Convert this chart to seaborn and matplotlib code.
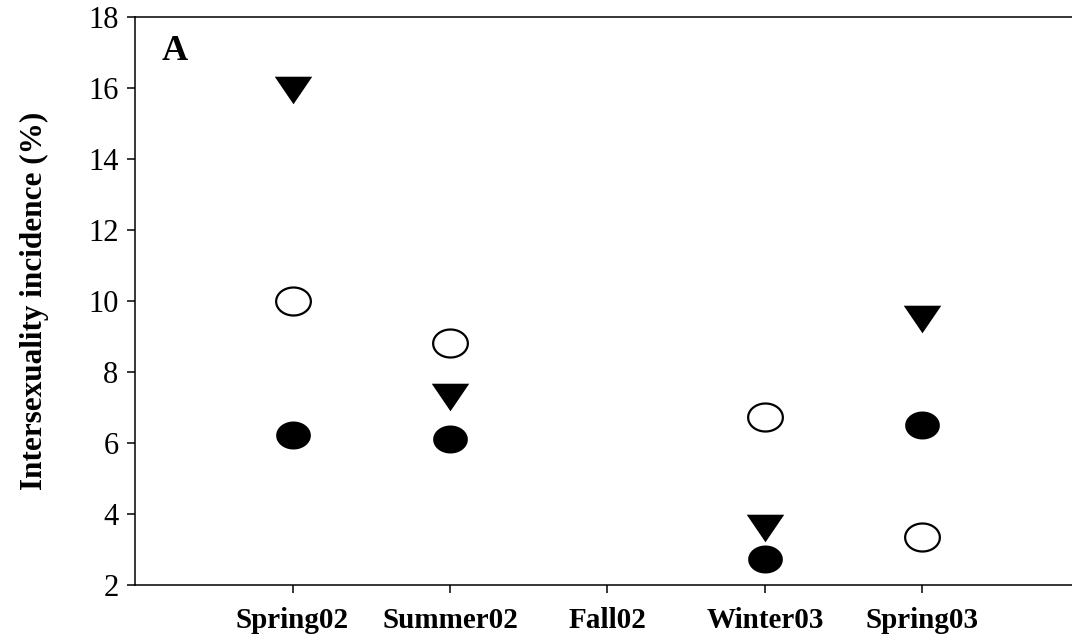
import numpy as np
import pandas as pd
import matplotlib
matplotlib.use("Agg")
import matplotlib.pyplot as plt
from matplotlib.path import Path
import seaborn as sns

sns.set_theme(style="white")
plt.rcParams['font.family'] = ['Liberation Serif', 'DejaVu Serif']
plt.rcParams['text.color'] = "black"

# donnees
saisons = ["Spring02", "Summer02", "Fall02", "Winter03", "Spring03"]
triangles = [15.95, 7.3, np.nan, 3.6, 9.5]
cercles_vides = [10.0, 8.82, np.nan, 6.73, 3.35]
cercles_pleins = [6.22, 6.12, np.nan, 2.72, 6.52]

df = pd.DataFrame({
    "saison": saisons,
    "triangle": triangles,
    "vide": cercles_vides,
    "plein": cercles_pleins,
})

# marqueurs un peu etires en largeur comme sur l'original
t = np.linspace(0, 2 * np.pi, 60)
ellipse = Path(np.column_stack([1.24 * np.cos(t), np.sin(t)]), closed=True)
tri_bas = Path([(-1.36, 1), (1.36, 1), (0, -1), (-1.36, 1)], closed=True)

fig = plt.figure(figsize=(10.72, 6.42), dpi=100)
ax = fig.add_axes([0.126, 0.089, 0.874, 0.884])

sns.stripplot(data=df, x="saison", y="triangle", order=saisons, jitter=False,
              marker=tri_bas, size=27, color="black", linewidth=0, ax=ax)
sns.stripplot(data=df, x="saison", y="vide", order=saisons, jitter=False,
              marker=ellipse, size=25, color="white", edgecolor="black",
              linewidth=1.6, ax=ax)
sns.stripplot(data=df, x="saison", y="plein", order=saisons, jitter=False,
              marker=ellipse, size=25, color="black", linewidth=0, ax=ax)

ax.set_xlim(-1, 4.95)
ax.set_ylim(2, 18)
ax.set_yticks(range(2, 19, 2))
ax.set_xlabel("")
ax.set_ylabel("Intersexuality incidence (%)", fontsize=22.5, fontweight="bold",
              labelpad=28, color="black")

ax.tick_params(axis="y", direction="out", length=6, width=1.1, labelsize=22,
               left=True, pad=6, colors="black")
ax.tick_params(axis="x", direction="out", length=6, width=1.1, labelsize=21,
               bottom=True, pad=10, colors="black")
for lab in ax.get_xticklabels():
    lab.set_fontweight("bold")

for cote in ["left", "bottom", "top"]:
    ax.spines[cote].set_visible(True)
    ax.spines[cote].set_color("black")
    ax.spines[cote].set_linewidth(1.1)
ax.spines["right"].set_visible(False)

ax.text(0.028, 0.94, "A", transform=ax.transAxes, fontsize=26,
        fontweight="bold", va="center", ha="left", color="black")

fig.savefig("out.png", dpi=100)
